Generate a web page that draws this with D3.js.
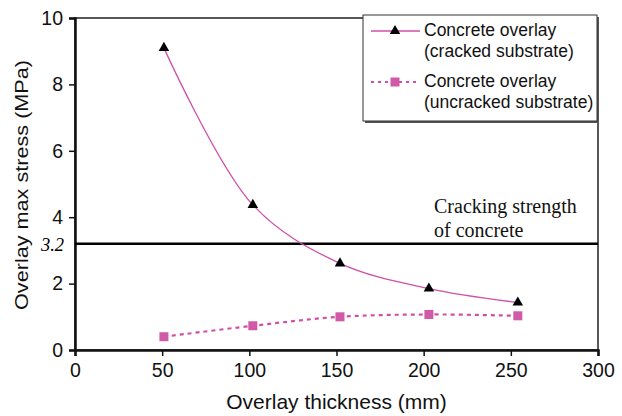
<!DOCTYPE html>
<html>
<head>
<meta charset="utf-8">
<script src="https://cdn.jsdelivr.net/npm/d3@7"></script>
<style>
  body { margin: 0; background: #fff; }
  text { font-family: "Liberation Sans", Arial, sans-serif; }
</style>
</head>
<body>
<div class="container"></div>
<script>
// chart data
const thickness = [51, 102, 152, 203, 254];
const crackedStress = [9.1, 4.37, 2.61, 1.85, 1.43];
const uncrackedStress = [0.40, 0.73, 1.0, 1.07, 1.03];
const xTicks = [0, 50, 100, 150, 200, 250, 300];
const yTicks = [0, 2, 4, 6, 8, 10];
const crackingStrength = 3.2;
const seriesNames = [["Concrete overlay", "(cracked substrate)"], ["Concrete overlay", "(uncracked substrate)"]];

const width = 622;
const height = 416;
const margin = { top: 18, right: 24, bottom: 66, left: 75 };
const pink = "#d04fa8";

const svg = d3.select(".container")
  .append("svg")
  .attr("width", width)
  .attr("height", height);

const x = d3.scaleLinear().domain([0, 300]).range([margin.left, width - margin.right]);
const y = d3.scaleLinear().domain([0, 10]).range([height - margin.bottom, margin.top]);

// plot frame (top and right edges)
svg.append("rect")
  .attr("x", x(0)).attr("y", y(10))
  .attr("width", x(300) - x(0)).attr("height", y(0) - y(10))
  .attr("fill", "none").attr("stroke", "#222").attr("stroke-width", 1.5);

// axes
const xAxis = svg.append("g")
  .attr("transform", `translate(0,${y(0)})`)
  .call(d3.axisBottom(x).tickValues(xTicks).tickSize(6).tickPadding(7));
const yAxis = svg.append("g")
  .attr("transform", `translate(${x(0)},0)`)
  .call(d3.axisLeft(y).tickValues(yTicks).tickSize(6).tickPadding(6));
[xAxis, yAxis].forEach(g => {
  g.select(".domain").attr("stroke", "#111").attr("stroke-width", 2.5);
  g.selectAll(".tick line").attr("stroke", "#111").attr("stroke-width", 1.5);
  g.selectAll(".tick text").attr("fill", "#111").style("font-size", "19.5px").style("font-family", "Liberation Sans, Arial, sans-serif");
});

svg.append("text")
  .attr("x", (x(0) + x(300)) / 2).attr("y", 409)
  .attr("text-anchor", "middle")
  .style("font-size", "21px").attr("fill", "#111")
  .text("Overlay thickness (mm)");
svg.append("text")
  .attr("transform", `translate(28,${(y(0) + y(10)) / 2 + 1}) rotate(-90)`)
  .attr("text-anchor", "middle")
  .attr("textLength", 250).attr("lengthAdjust", "spacingAndGlyphs")
  .style("font-size", "19px").attr("fill", "#111")
  .text("Overlay max stress (MPa)");

// cracking strength line
svg.append("line")
  .attr("x1", x(0)).attr("x2", x(300))
  .attr("y1", y(crackingStrength)).attr("y2", y(crackingStrength))
  .attr("stroke", "#000").attr("stroke-width", 2.5);
svg.append("text")
  .attr("x", 64).attr("y", y(crackingStrength) + 7)
  .attr("text-anchor", "end")
  .style("font-family", "Liberation Serif, Times New Roman, serif")
  .style("font-style", "italic").style("font-size", "18.5px")
  .text("3.2");
svg.append("text")
  .style("font-family", "Liberation Serif, Times New Roman, serif")
  .style("font-size", "20px").attr("fill", "#111")
  .selectAll("tspan")
  .data(["Cracking strength", "of concrete"])
  .join("tspan")
  .attr("x", 434)
  .attr("y", (d, i) => 213 + i * 23.5)
  .text(d => d);

// series lines
const cracked = thickness.map((t, i) => [t, crackedStress[i]]);
const uncracked = thickness.map((t, i) => [t, uncrackedStress[i]]);

const smooth = d3.line().x(d => x(d[0])).y(d => y(d[1])).curve(d3.curveCatmullRom.alpha(0.5));

svg.append("path")
  .attr("d", smooth(cracked))
  .attr("fill", "none").attr("stroke", pink).attr("stroke-width", 1.3);
svg.append("path")
  .attr("d", smooth(uncracked))
  .attr("fill", "none").attr("stroke", pink).attr("stroke-width", 2.2)
  .attr("stroke-dasharray", "4,4");

const tri = d3.symbol().type(d3.symbolTriangle).size(48);
svg.selectAll(".tri")
  .data(cracked)
  .join("path")
  .attr("class", "tri")
  .attr("d", tri)
  .attr("transform", d => `translate(${x(d[0])},${y(d[1])})`)
  .attr("fill", "#000");

svg.selectAll(".sq")
  .data(uncracked)
  .join("rect")
  .attr("class", "sq")
  .attr("x", d => x(d[0]) - 4.5).attr("y", d => y(d[1]) - 4.5)
  .attr("width", 9).attr("height", 9)
  .attr("fill", "#d05aa8");

// legend
const legend = svg.append("g").attr("transform", "translate(363,15)");
legend.append("rect")
  .attr("x", 2).attr("y", 2).attr("width", 234).attr("height", 106)
  .attr("fill", "#555");
legend.append("rect")
  .attr("x", 0).attr("y", 0).attr("width", 234).attr("height", 106)
  .attr("fill", "#fff").attr("stroke", "#333").attr("stroke-width", 1);

legend.append("line")
  .attr("x1", 8).attr("x2", 57).attr("y1", 16).attr("y2", 16)
  .attr("stroke", pink).attr("stroke-width", 1.3);
legend.append("path")
  .attr("d", tri).attr("transform", "translate(32,16)").attr("fill", "#000");
legend.append("line")
  .attr("x1", 8).attr("x2", 57).attr("y1", 67).attr("y2", 67)
  .attr("stroke", pink).attr("stroke-width", 2.2).attr("stroke-dasharray", "3,4");
legend.append("rect")
  .attr("x", 27.5).attr("y", 62.5).attr("width", 9).attr("height", 9)
  .attr("fill", "#d05aa8");

seriesNames.forEach((lines, i) => {
  legend.append("text")
    .style("font-size", "17.5px").attr("fill", "#111")
    .selectAll("tspan")
    .data(lines)
    .join("tspan")
    .attr("x", 61)
    .attr("y", (d, j) => 21 + i * 51 + j * 21)
    .text(d => d);
});
</script>
</body>
</html>
